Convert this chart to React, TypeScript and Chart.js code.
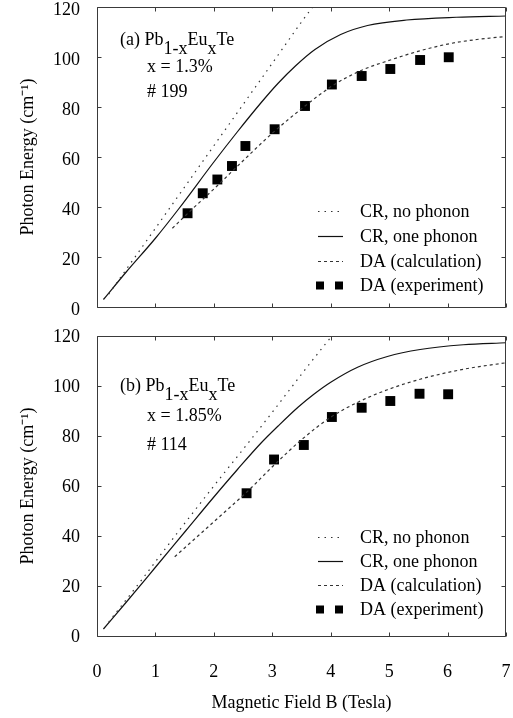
import React, { useEffect, useRef } from 'react';
import { Chart, registerables } from 'chart.js';

Chart.register(...registerables);

const FONT = '"Liberation Serif", "Times New Roman", Times, serif';
const X_TICKS = [0, 1, 2, 3, 4, 5, 6, 7];
const Y_TICKS = [0, 20, 40, 60, 80, 100, 120];
const X_TITLE = 'Magnetic Field B (Tesla)';
const Y_TITLE = 'Photon Energy (cm\u207B\u00B9)';
const LEGEND_LABELS = ['CR, no phonon', 'CR, one phonon', 'DA (calculation)', 'DA (experiment)'];

// Panel (a): x = 1.3 %, # 199
const A_CR_NO_B = [0.2, 0.5, 1, 1.5, 2, 2.5, 3, 3.5, 3.69];
const A_CR_NO_E = [5.1, 15, 31.5, 48, 64.5, 81, 97.5, 114, 120];
const A_CR_ONE_B = [0.11, 0.5, 1, 1.4, 2, 2.4, 2.8, 3.1, 3.4, 3.73, 4.17, 4.63, 5.3, 6.15, 7];
const A_CR_ONE_E = [3, 14, 27.5, 39.3, 58, 70, 81.5, 89.5, 96.5, 103, 109, 112.6, 114.8, 115.9, 116.4];
const A_DA_CALC_B = [1.29, 1.6, 2, 2.5, 3, 3.56, 4.03, 4.51, 5.02, 5.53, 6.03, 6.5, 7];
const A_DA_CALC_E = [31.5, 38.5, 47.2, 58.5, 69.5, 80.4, 88.5, 94.5, 98.8, 102.5, 105.3, 107, 108.2];
const A_DA_EXP_B = [1.55, 1.81, 2.06, 2.31, 2.54, 3.04, 3.56, 4.02, 4.53, 5.02, 5.53, 6.02];
const A_DA_EXP_E = [37.5, 45.5, 51, 56.4, 64.4, 71.1, 80.4, 89, 92.4, 95.2, 98.8, 99.9];

// Panel (b): x = 1.85 %, # 114
const B_CR_NO_B = [0.2, 0.7, 1.4, 2.0, 2.59, 3.0, 3.66, 4.02];
const B_CR_NO_E = [5.6, 20.5, 42, 60, 77.3, 89.5, 109.5, 120];
const B_CR_ONE_B = [0.11, 0.5, 1, 1.53, 2, 2.4, 2.8, 3.1, 3.44, 3.7, 4, 4.46, 4.97, 5.53, 6.27, 7];
const B_CR_ONE_E = [2.8, 13.5, 27.5, 42.4, 55.6, 66.5, 77, 84, 91.5, 96.5, 101.5, 107.5, 111.8, 114.6, 116.5, 117.3];
const B_DA_CALC_B = [1.33, 1.8, 2.3, 2.56, 3.05, 3.5, 4.0, 4.49, 4.97, 5.53, 6.27, 7];
const B_DA_CALC_E = [31.7, 41.5, 52, 57.5, 68.8, 78.5, 87.5, 93.8, 98.5, 102.7, 106.7, 109.3];
const B_DA_EXP_B = [2.56, 3.03, 3.54, 4.02, 4.53, 5.02, 5.52, 6.01];
const B_DA_EXP_E = [57.1, 70.6, 76.4, 87.6, 91.3, 94, 96.9, 96.7];

const AXIS_COLOR = '#3a3a3a';

function pts(xs: number[], ys: number[]) {
  return xs.map((x, i) => ({ x, y: ys[i] }));
}

type Part = { t: string; sub?: boolean };

interface PanelCfg {
  height: number;
  padTop: number;
  padBottom: number;
  showXLabels: boolean;
  yLabelOffset: number;
  legendBaselines: number[];
  noteLines: { x: number; y: number; parts: Part[] }[];
  data: { noB: number[]; noE: number[]; oneB: number[]; oneE: number[]; calcB: number[]; calcE: number[]; expB: number[]; expE: number[] };
}

function makeDatasets(d: PanelCfg['data']) {
  return [
    {
      label: LEGEND_LABELS[0],
      data: pts(d.noB, d.noE),
      showLine: true,
      borderColor: '#333',
      borderWidth: 1.2,
      borderDash: [1.5, 5],
      pointRadius: 0,
      cubicInterpolationMode: 'monotone',
    },
    {
      label: LEGEND_LABELS[1],
      data: pts(d.oneB, d.oneE),
      showLine: true,
      borderColor: '#111',
      borderWidth: 1.2,
      pointRadius: 0,
      cubicInterpolationMode: 'monotone',
    },
    {
      label: LEGEND_LABELS[2],
      data: pts(d.calcB, d.calcE),
      showLine: true,
      borderColor: '#333',
      borderWidth: 1.2,
      borderDash: [3, 3],
      pointRadius: 0,
      cubicInterpolationMode: 'monotone',
    },
    {
      label: LEGEND_LABELS[3],
      data: pts(d.expB, d.expE),
      showLine: false,
      pointStyle: 'rect',
      pointRadius: 7,
      backgroundColor: '#000',
      borderColor: '#000',
      borderWidth: 0,
    },
  ];
}

function makePanelPlugin(cfg: PanelCfg) {
  return {
    id: 'panelDecor',
    afterDraw(chart: any) {
      const { ctx, chartArea } = chart;
      const { left, right, top, bottom } = chartArea;
      const xs = chart.scales.x;
      const ys = chart.scales.y;
      ctx.save();
      // frame
      ctx.strokeStyle = AXIS_COLOR;
      ctx.lineWidth = 1;
      ctx.setLineDash([]);
      const L = Math.round(left) + 0.5;
      const R = Math.round(right) - 0.5;
      const T = Math.round(top) + 0.5;
      const B = Math.round(bottom) + 0.5;
      ctx.beginPath();
      ctx.rect(L, T, R - L, B - T);
      ctx.stroke();
      // inward ticks
      ctx.beginPath();
      X_TICKS.forEach((v) => {
        const p = Math.round(xs.getPixelForValue(v)) + 0.5;
        ctx.moveTo(p, B);
        ctx.lineTo(p, B - 4);
        ctx.moveTo(p, T);
        ctx.lineTo(p, T + 4);
      });
      Y_TICKS.forEach((v) => {
        const p = Math.round(ys.getPixelForValue(v)) + 0.5;
        ctx.moveTo(L, p);
        ctx.lineTo(L + 4, p);
        ctx.moveTo(R, p);
        ctx.lineTo(R - 4, p);
      });
      ctx.stroke();

      // annotation
      ctx.fillStyle = '#000';
      ctx.font = `18px ${FONT}`;
      ctx.textBaseline = 'alphabetic';
      ctx.textAlign = 'left';
      cfg.noteLines.forEach((line) => {
        let x = line.x;
        line.parts.forEach((p) => {
          ctx.fillText(p.t, x, line.y + (p.sub ? 9 : 0));
          x += ctx.measureText(p.t).width;
        });
      });

      // legend
      const dsets = chart.data.datasets;
      cfg.legendBaselines.forEach((by, i) => {
        const ds = dsets[i];
        const sy = by - 5.5;
        if (ds.showLine) {
          ctx.strokeStyle = ds.borderColor;
          ctx.lineWidth = ds.borderWidth;
          ctx.setLineDash(ds.borderDash || []);
          ctx.beginPath();
          ctx.moveTo(318, sy);
          ctx.lineTo(343, sy);
          ctx.stroke();
        } else {
          ctx.fillStyle = '#000';
          ctx.fillRect(316, sy - 4, 8, 8);
          ctx.fillRect(335, sy - 4, 8, 8);
        }
        ctx.setLineDash([]);
        ctx.fillStyle = '#000';
        ctx.fillText(ds.label, 360, by);
      });
      ctx.restore();
    },
  };
}

const PANELS: PanelCfg[] = [
  {
    height: 320,
    padTop: 7,
    padBottom: 13,
    showXLabels: false,
    yLabelOffset: 3,
    legendBaselines: [217, 242, 267, 291],
    noteLines: [
      { x: 120, y: 45, parts: [{ t: '(a) Pb' }, { t: '1-x', sub: true }, { t: 'Eu' }, { t: 'x', sub: true }, { t: 'Te' }] },
      { x: 147, y: 72, parts: [{ t: 'x = 1.3%' }] },
      { x: 147, y: 97, parts: [{ t: '# 199' }] },
    ],
    data: {
      noB: A_CR_NO_B, noE: A_CR_NO_E, oneB: A_CR_ONE_B, oneE: A_CR_ONE_E,
      calcB: A_DA_CALC_B, calcE: A_DA_CALC_E, expB: A_DA_EXP_B, expE: A_DA_EXP_E,
    },
  },
  {
    height: 398,
    padTop: 16,
    padBottom: 4,
    showXLabels: true,
    yLabelOffset: 1,
    legendBaselines: [223, 247, 271, 295],
    noteLines: [
      { x: 120, y: 71, parts: [{ t: '(b) Pb' }, { t: '1-x', sub: true }, { t: 'Eu' }, { t: 'x', sub: true }, { t: 'Te' }] },
      { x: 147, y: 101, parts: [{ t: 'x = 1.85%' }] },
      { x: 147, y: 130, parts: [{ t: '# 114' }] },
    ],
    data: {
      noB: B_CR_NO_B, noE: B_CR_NO_E, oneB: B_CR_ONE_B, oneE: B_CR_ONE_E,
      calcB: B_DA_CALC_B, calcE: B_DA_CALC_E, expB: B_DA_EXP_B, expE: B_DA_EXP_E,
    },
  },
];

function Panel({ cfg, top }: { cfg: PanelCfg; top: number }) {
  const ref = useRef<HTMLCanvasElement | null>(null);
  useEffect(() => {
    if (!ref.current) return;
    const font = { family: FONT, size: 18 };
    const chart = new Chart(ref.current, {
      type: 'scatter',
      data: { datasets: makeDatasets(cfg.data) as any },
      options: {
        responsive: false,
        animation: false,
        events: [],
        layout: { padding: { left: 0, right: 3, top: cfg.padTop, bottom: cfg.padBottom } },
        plugins: { legend: { display: false }, tooltip: { enabled: false } },
        scales: {
          x: {
            type: 'linear',
            min: 0,
            max: 7,
            afterBuildTicks: (s: any) => {
              s.ticks = X_TICKS.map((v) => ({ value: v }));
            },
            grid: { display: false, drawTicks: false },
            border: { display: false },
            ticks: {
              display: cfg.showXLabels,
              padding: 25,
              font,
              color: '#000',
              maxRotation: 0,
              callback: (v: any) => String(v),
            },
            title: { display: cfg.showXLabels, text: X_TITLE, font, color: '#000', padding: { top: 0, bottom: 0 } },
            afterFit: (s: any) => {
              s.height = cfg.showXLabels ? 78 : 0;
              s.paddingLeft = 0;
              s.paddingRight = 0;
            },
          },
          y: {
            type: 'linear',
            min: 0,
            max: 120,
            afterBuildTicks: (s: any) => {
              s.ticks = Y_TICKS.map((v) => ({ value: v }));
            },
            grid: { display: false, drawTicks: false },
            border: { display: false },
            ticks: {
              padding: 17,
              labelOffset: cfg.yLabelOffset,
              font,
              color: '#000',
              callback: (v: any) => String(v),
            },
            title: { display: true, text: Y_TITLE, font, color: '#000', padding: { top: 17, bottom: 0 } },
            afterFit: (s: any) => {
              s.width = 97;
              s.paddingTop = 0;
              s.paddingBottom = 0;
            },
          },
        },
      } as any,
      plugins: [makePanelPlugin(cfg)],
    });
    return () => chart.destroy();
  }, [cfg]);
  return (
    <canvas
      ref={ref}
      width={513}
      height={cfg.height}
      style={{ position: 'absolute', left: 0, top, width: 513, height: cfg.height }}
    />
  );
}

export default function App() {
  return (
    <div style={{ position: 'absolute', left: 0, top: 0, width: 513, height: 718, background: '#fff', overflow: 'hidden' }}>
      <Panel cfg={PANELS[0]} top={0} />
      <Panel cfg={PANELS[1]} top={320} />
    </div>
  );
}
